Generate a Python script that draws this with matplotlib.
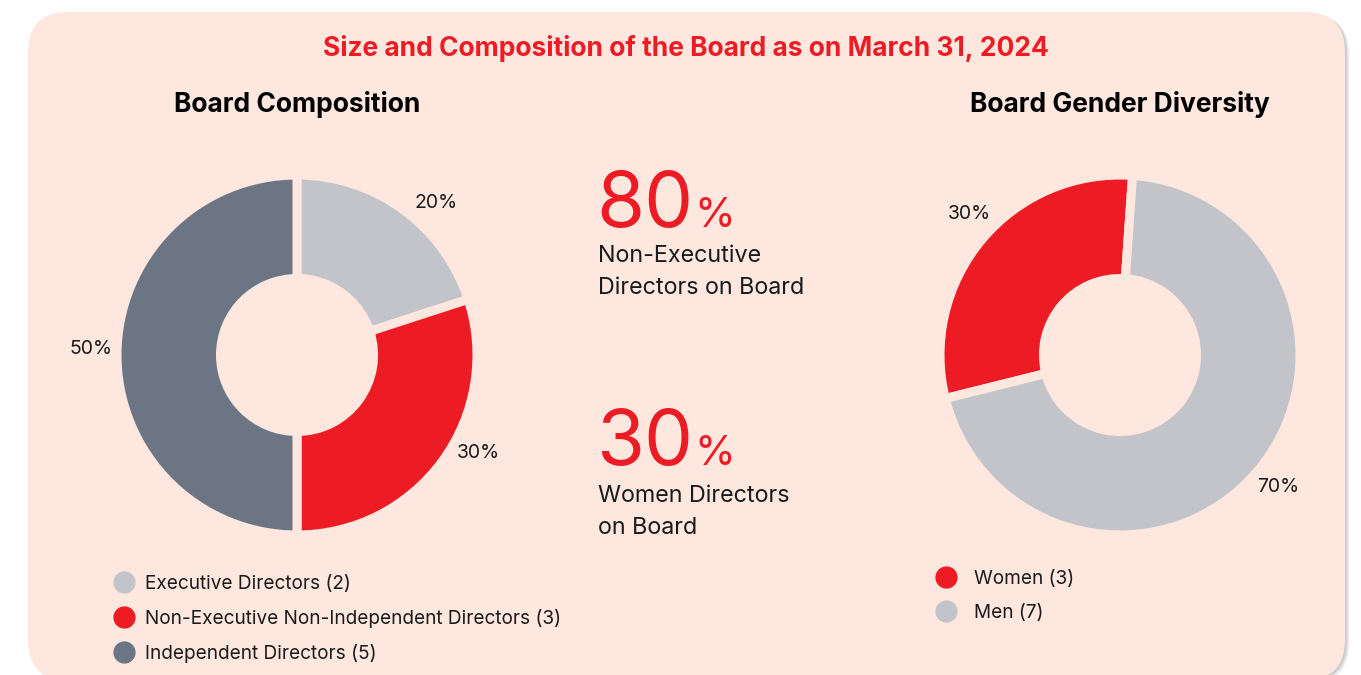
import matplotlib as mpl
mpl.use('Agg')
import numpy as np
import matplotlib.pyplot as plt
from matplotlib.patches import FancyBboxPatch
from matplotlib.lines import Line2D

plt.rcParams['font.family'] = ['Inter', 'DejaVu Sans']

W, H, DPI = 1361, 675, 100

PANEL = '#FDE7DE'
RED = '#ED1C24'
LIGHT = '#C3C4CA'
DARK = '#6C7584'
INK = '#1A1A1A'

title = 'Size and Composition of the Board as on March 31, 2024'

comp_labels = ['Executive Directors', 'Non-Executive Non-Independent Directors',
               'Independent Directors']
comp_counts = [2, 3, 5]
comp_colors = [LIGHT, RED, DARK]

gender_labels = ['Women', 'Men']
gender_counts = [3, 7]
gender_colors = [RED, LIGHT]

non_exec_pct = 80
women_pct = 30

fig = plt.figure(figsize=(W / DPI, H / DPI), dpi=DPI)
fig.patch.set_facecolor('white')

# pixel-space canvas for the card, headings and callouts
bg = fig.add_axes([0, 0, 1, 1])
bg.set_xlim(0, W)
bg.set_ylim(H, 0)
bg.axis('off')

x0, y0, x1, y1, rad = 28, 12, 1345, 680, 40
for k, a in enumerate([0.05, 0.05, 0.05, 0.04, 0.03]):
    off = 2 + k * 1.5
    bg.add_patch(FancyBboxPatch((x0 + off * 0.6, y0 + off * 0.4), x1 - x0, y1 - y0,
                                boxstyle='round,pad=0,rounding_size=%d' % rad,
                                fc='black', ec='none', alpha=a, zorder=0))
bg.add_patch(FancyBboxPatch((x0, y0), x1 - x0, y1 - y0,
                            boxstyle='round,pad=0,rounding_size=%d' % rad,
                            fc=PANEL, ec='none', zorder=1))

bg.text(686, 48, title, color=RED, fontsize=19, fontweight='bold',
        ha='center', va='center', zorder=3)
bg.text(297, 104, 'Board Composition', color='black', fontsize=19,
        fontweight='bold', ha='center', va='center', zorder=3)
bg.text(1120, 104, 'Board Gender Diversity', color='black', fontsize=19,
        fontweight='bold', ha='center', va='center', zorder=3)


def callout(y_num, value, lines, gap):
    t = bg.text(596, y_num, str(value), color=RED, fontsize=56,
                ha='left', va='baseline', zorder=3)
    fig.canvas.draw()
    bb = t.get_window_extent()
    bg.text(bb.x1 + 1, y_num, '%', color=RED, fontsize=30,
            ha='left', va='baseline', zorder=3,
            transform=mpl.transforms.blended_transform_factory(
                mpl.transforms.IdentityTransform(), bg.transData))
    for i, line in enumerate(lines):
        bg.text(598, y_num + gap + i * 32, line, color=INK, fontsize=16.8,
                ha='left', va='center', zorder=3)


callout(227, non_exec_pct, ['Non-Executive', 'Directors on Board'], 29)
callout(465, women_pct, ['Women Directors', 'on Board'], 31)


def donut(cx, cy, values, colors, start, clockwise, label_pos):
    r = 180
    ax = fig.add_axes([(cx - r) / W, 1 - (cy + r) / H, 2 * r / W, 2 * r / H])
    total = sum(values)
    wedges, _ = ax.pie(values, colors=colors, startangle=start,
                       counterclock=not clockwise,
                       wedgeprops=dict(width=0.575, edgecolor=PANEL,
                                       linewidth=6.5))
    # percentage labels set just outside the ring, partway along each wedge
    for w, v, f in zip(wedges, values, label_pos):
        ang = np.deg2rad(w.theta1 + f * (w.theta2 - w.theta1))
        ax.text(1.145 * np.cos(ang), 1.145 * np.sin(ang),
                '%d%%' % round(100 * v / total), fontsize=14, color=INK,
                ha='center', va='center', clip_on=False)
    ax.set_xlim(-1, 1)
    ax.set_ylim(-1, 1)
    ax.set_aspect('equal')
    ax.axis('off')
    return ax


donut(297, 355, comp_counts, comp_colors, 90, True, [0.41, 0.57, 0.49])
donut(1120, 355, gender_counts, gender_colors, 86, False, [0.47, 0.5])


def legend(x, y, labels, counts, colors, textpad):
    handles = [Line2D([], [], marker='o', linestyle='', markersize=15,
                      color=c) for c in colors]
    texts = ['%s (%d)' % (l, n) for l, n in zip(labels, counts)]
    fig.legend(handles, texts, loc='upper left',
               bbox_to_anchor=(x / W, 1 - y / H), frameon=False,
               fontsize=13.7, labelspacing=0.84, handlelength=1.0,
               handletextpad=textpad, borderpad=0, borderaxespad=0,
               labelcolor=INK)


legend(114, 575, comp_labels, comp_counts, comp_colors, 0.65)
legend(936, 570, gender_labels, gender_counts, gender_colors, 1.0)

fig.savefig('out.png', dpi=DPI, facecolor='white')
